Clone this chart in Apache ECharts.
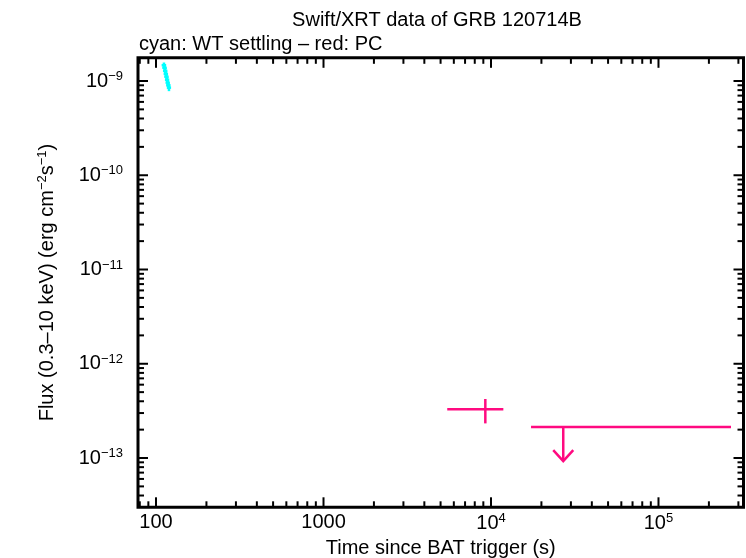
<!DOCTYPE html>
<html>
<head>
<meta charset="utf-8">
<script src="https://cdn.jsdelivr.net/npm/echarts@6.0.0/dist/echarts.min.js"></script>
<style>
  html, body { margin: 0; padding: 0; background: #fff; }
  #chart { width: 746px; height: 558px; }
</style>
</head>
<body>
<div id="chart"></div>
<script>
// WT settling mode (cyan)
const wtTime = [111.5, 112.5, 113.5, 114.5, 115.5, 116.5, 117.5, 118.5, 119.5]
const wtTimeErr = [3.5, 3.5, 3.5, 3.5, 3.5, 3.5, 3.5, 3.5, 3.5]
const wtFlux = [1.47e-9, 1.38e-9, 1.28e-9, 1.19e-9, 1.11e-9, 1.03e-9, 0.96e-9, 0.9e-9, 0.85e-9]
const wtFluxErr = [0.1e-9, 0.1e-9, 0.1e-9, 0.09e-9, 0.09e-9, 0.08e-9, 0.08e-9, 0.07e-9, 0.07e-9]

// PC mode (red)
const pcTime = [9250]
const pcTimeLo = [5480]
const pcTimeHi = [11850]
const pcFlux = [3.29e-13]
const pcFluxLo = [2.33e-13]
const pcFluxHi = [4.23e-13]

// PC upper limit
const ulTime = [27000]
const ulTimeLo = [17340]
const ulTimeHi = [271000]
const ulFlux = [2.13e-13]

const xMajorTicks = [100, 1000, 1e4, 1e5]
const xTickLabels = ['100', '1000', '10{sup|4}', '10{sup|5}']
const yMajorTicks = [1e-13, 1e-12, 1e-11, 1e-10, 1e-9]
const yTickLabels = ['10{sup|−13}', '10{sup|−12}', '10{sup|−11}', '10{sup|−10}', '10{sup|−9}']

const xMin = 78.06, xMax = 321800
const yMin = 3.0e-14, yMax = 1.762e-9

const PINK = '#ff0a80'
const CYAN = '#00ffff'
const FONT = 'Liberation Sans, Arial, sans-serif'

function findLabel(v, ticks, labels) {
  for (let i = 0; i < ticks.length; i++) {
    if (Math.abs(Math.log10(v) - Math.log10(ticks[i])) < 1e-6) return labels[i]
  }
  return ''
}

// tick marks (major + minor) for all four sides
let tickData = []
for (let d = 1; d <= 5; d++) {
  for (let m = 1; m <= 9; m++) {
    let v = m * Math.pow(10, d)
    if (v > xMin && v < xMax) tickData.push([v, yMin, 0, m === 1 ? 10 : 6])
  }
}
for (let d = -14; d <= -9; d++) {
  for (let m = 1; m <= 9; m++) {
    let v = m * Math.pow(10, d)
    if (v > yMin && v < yMax) tickData.push([xMin, v, 1, m === 1 ? 10 : 6])
  }
}

let wtData = wtTime.map((t, i) => [t, wtFlux[i], t - wtTimeErr[i], t + wtTimeErr[i], wtFlux[i] - wtFluxErr[i], wtFlux[i] + wtFluxErr[i]])
let pcData = pcTime.map((t, i) => [t, pcFlux[i], pcTimeLo[i], pcTimeHi[i], pcFluxLo[i], pcFluxHi[i]])
let ulData = ulTime.map((t, i) => [t, ulFlux[i], ulTimeLo[i], ulTimeHi[i]])

function errRender(color, width) {
  return function (params, api) {
    let c = api.coord([api.value(0), api.value(1)])
    let l = api.coord([api.value(2), api.value(1)])
    let r = api.coord([api.value(3), api.value(1)])
    let lo = api.coord([api.value(0), api.value(4)])
    let hi = api.coord([api.value(0), api.value(5)])
    let st = { stroke: color, lineWidth: width }
    return {
      type: 'group',
      children: [
        { type: 'line', shape: { x1: l[0], y1: c[1], x2: r[0], y2: c[1] }, style: st },
        { type: 'line', shape: { x1: c[0], y1: lo[1], x2: c[0], y2: hi[1] }, style: st }
      ]
    }
  }
}

let myChart = echarts.init(document.getElementById('chart'), null, { renderer: 'canvas' })

const supStyle = { fontFamily: FONT, fontSize: 13, color: '#000', padding: [0, 0, 9, 0] }

const options = {
  backgroundColor: '#fff',
  animation: false,
  title: [
    {
      text: 'Swift/XRT data of GRB 120714B',
      left: 432,
      top: 5,
      textAlign: 'center',
      textStyle: { fontFamily: FONT, fontSize: 20, fontWeight: 'normal', color: '#000' }
    },
    {
      text: 'cyan: WT settling – red: PC',
      left: 134,
      top: 29,
      textStyle: { fontFamily: FONT, fontSize: 20, fontWeight: 'normal', color: '#000' }
    }
  ],
  grid: {
    left: 138,
    right: 2.5,
    top: 57.8,
    bottom: 50.7,
    outerBoundsMode: 'none',
    containLabel: false,
    show: true,
    borderColor: '#000',
    borderWidth: 3,
    backgroundColor: 'transparent'
  },
  xAxis: {
    type: 'log',
    logBase: 10,
    min: xMin,
    max: xMax,
    name: 'Time since BAT trigger (s)',
    nameLocation: 'middle',
    nameGap: 28,
    nameTextStyle: { fontFamily: FONT, fontSize: 20, color: '#000' },
    axisLine: { show: false },
    axisTick: { show: false },
    splitLine: { show: false },
    axisLabel: {
      showMinLabel: false,
      showMaxLabel: false,
      margin: 5,
      fontFamily: FONT,
      fontSize: 20,
      color: '#000',
      formatter: v => findLabel(v, xMajorTicks, xTickLabels),
      rich: { sup: supStyle }
    }
  },
  yAxis: {
    type: 'log',
    logBase: 10,
    min: yMin,
    max: yMax,
    name: 'Flux (0.3–10 keV) (erg cm{sup|−2}s{sup|−1})',
    nameLocation: 'middle',
    nameRotate: 90,
    nameGap: 80,
    nameTextStyle: {
      fontFamily: FONT,
      fontSize: 20,
      color: '#000',
      rich: { sup: supStyle }
    },
    axisLine: { show: false },
    axisTick: { show: false },
    splitLine: { show: false },
    axisLabel: {
      showMinLabel: false,
      showMaxLabel: false,
      margin: 15,
      fontFamily: FONT,
      fontSize: 20,
      color: '#000',
      formatter: v => findLabel(v, yMajorTicks, yTickLabels),
      rich: { sup: supStyle }
    }
  },
  series: [
    {
      name: 'ticks',
      type: 'custom',
      clip: false,
      silent: true,
      data: tickData,
      renderItem: function (params, api) {
        let cs = params.coordSys
        let len = api.value(3)
        let st = { stroke: '#000', lineWidth: 2 }
        if (api.value(2) === 0) {
          let px = api.coord([api.value(0), yMin])[0]
          return {
            type: 'group',
            children: [
              { type: 'line', shape: { x1: px, y1: cs.y + cs.height, x2: px, y2: cs.y + cs.height - len }, style: st },
              { type: 'line', shape: { x1: px, y1: cs.y, x2: px, y2: cs.y + len }, style: st }
            ]
          }
        }
        let py = api.coord([xMin, api.value(1)])[1]
        return {
          type: 'group',
          children: [
            { type: 'line', shape: { x1: cs.x, y1: py, x2: cs.x + len, y2: py }, style: st },
            { type: 'line', shape: { x1: cs.x + cs.width, y1: py, x2: cs.x + cs.width - len, y2: py }, style: st }
          ]
        }
      }
    },
    {
      name: 'WT settling',
      type: 'custom',
      data: wtData,
      renderItem: errRender(CYAN, 2.5)
    },
    {
      name: 'PC',
      type: 'custom',
      data: pcData,
      renderItem: errRender(PINK, 2.5)
    },
    {
      name: 'PC upper limit',
      type: 'custom',
      clip: false,
      data: ulData,
      renderItem: function (params, api) {
        let c = api.coord([api.value(0), api.value(1)])
        let l = api.coord([api.value(2), api.value(1)])
        let r = api.coord([api.value(3), api.value(1)])
        let st = { stroke: PINK, lineWidth: 2.5, fill: null }
        let tip = c[1] + 34
        return {
          type: 'group',
          children: [
            { type: 'line', shape: { x1: l[0], y1: c[1], x2: r[0], y2: c[1] }, style: st },
            { type: 'line', shape: { x1: c[0], y1: c[1], x2: c[0], y2: tip }, style: st },
            { type: 'polyline', shape: { points: [[c[0] - 10, tip - 11], [c[0], tip], [c[0] + 10, tip - 11]] }, style: st }
          ]
        }
      }
    }
  ]
}
myChart.setOption(options)
</script>
</body>
</html>
